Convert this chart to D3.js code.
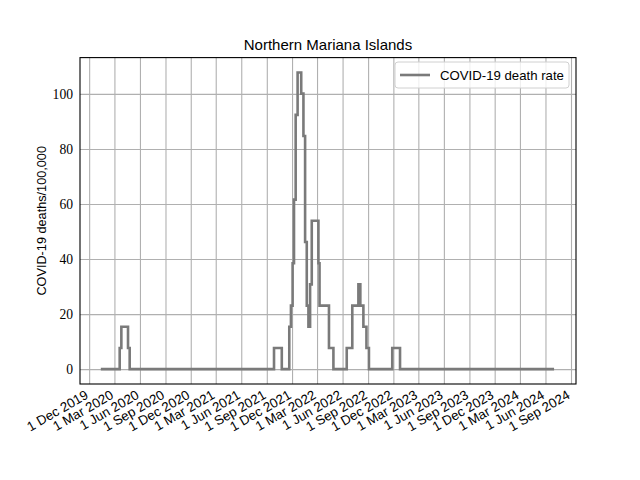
<!DOCTYPE html>
<html>
<head>
<meta charset="utf-8">
<script src="https://cdn.jsdelivr.net/npm/d3@7"></script>
<style>
  body { margin: 0; background: #fff; }
  svg { display: block; }
  .grid line { stroke: #b0b0b0; stroke-width: 1.1; }
  .grid path { display: none; }
  .axis path, .axis line { display: none; }
</style>
</head>
<body>
<svg id="chart" width="640" height="480"></svg>
<script>
// step data: date where the value changes, and the new value (deaths per 100,000)
const changeDates = [
    "2020-01-12", "2020-03-20", "2020-03-26", "2020-04-19", "2020-04-25",
    "2021-09-27", "2021-10-25", "2021-11-21", "2021-11-27", "2021-12-03",
    "2021-12-08", "2021-12-14", "2021-12-21", "2022-01-03", "2022-01-11",
    "2022-01-17", "2022-01-23", "2022-01-29", "2022-02-04", "2022-02-10",
    "2022-03-06", "2022-03-10", "2022-04-13", "2022-04-29", "2022-06-16",
    "2022-07-06", "2022-07-28", "2022-08-04", "2022-08-15", "2022-08-26",
    "2022-09-04", "2022-11-27", "2022-12-25", "2024-07-02"
];
const deathRates = [
    0, 7.7, 15.4, 7.7, 0,
    7.7, 0, 15.4, 23.1, 38.5,
    61.6, 92.4, 107.8, 100.1, 84.7,
    46.2, 23.1, 15.4, 30.8, 53.9,
    38.5, 23.1, 7.7, 0, 7.7,
    23.1, 30.8, 23.1, 15.4, 7.7,
    0, 7.7, 0, 0
];
const tickDates = [
    "2019-12-01", "2020-03-01", "2020-06-01", "2020-09-01", "2020-12-01",
    "2021-03-01", "2021-06-01", "2021-09-01", "2021-12-01", "2022-03-01",
    "2022-06-01", "2022-09-01", "2022-12-01", "2023-03-01", "2023-06-01",
    "2023-09-01", "2023-12-01", "2024-03-01", "2024-06-01", "2024-09-01"
];
const yTicks = [0, 20, 40, 60, 80, 100];
const titleText = "Northern Mariana Islands";
const yLabel = "COVID-19 deaths/100,000";
const legendLabel = "COVID-19 death rate";

const parse = d3.utcParse("%Y-%m-%d");
const series = changeDates.map((d, i) => ({ date: parse(d), value: deathRates[i] }));
const ticks = tickDates.map(parse);

const margin = { left: 80, right: 64, top: 57.6, bottom: 96 };
const width = 640 - margin.left - margin.right;
const height = 480 - margin.top - margin.bottom;

const svg = d3.select("#chart");
const g = svg.append("g")
    .attr("transform", `translate(${margin.left},${margin.top})`);

// matplotlib style 5% padding around the data
const yMax = d3.max(deathRates);
const xScale = d3.scaleUtc()
    .domain([parse("2019-10-29"), parse("2024-09-19")])
    .range([0, width]);
const yScale = d3.scaleLinear()
    .domain([-0.05 * yMax, 1.05 * yMax])
    .range([height, 0]);

// grid
g.append("g")
    .attr("class", "grid")
    .attr("transform", `translate(0,${height})`)
    .call(d3.axisBottom(xScale).tickValues(ticks).tickSize(-height).tickFormat(""));
g.append("g")
    .attr("class", "grid")
    .call(d3.axisLeft(yScale).tickValues(yTicks).tickSize(-width).tickFormat(""));

// x tick labels, rotated like autofmt_xdate
const fmt = d3.utcFormat("%-d %b %Y");
g.append("g")
    .attr("class", "x-labels")
    .selectAll("text")
    .data(ticks)
    .join("text")
    .attr("transform", d => `translate(${xScale(d) - 5},${height + 5}) rotate(-30)`)
    .attr("text-anchor", "end")
    .attr("dy", "0.75em")
    .style("font-family", "Liberation Sans, Arial, sans-serif")
    .style("font-size", "13.3px")
    .attr("fill", "#000")
    .text(d => fmt(d));

// y tick labels
g.append("g")
    .attr("class", "y-labels")
    .selectAll("text")
    .data(yTicks)
    .join("text")
    .attr("x", -7)
    .attr("y", d => yScale(d))
    .attr("dy", "0.35em")
    .attr("text-anchor", "end")
    .style("font-family", "Liberation Serif, serif")
    .style("font-size", "13.6px")
    .attr("fill", "#000")
    .text(d => d);

// data line
const line = d3.line()
    .x(d => xScale(d.date))
    .y(d => yScale(d.value))
    .curve(d3.curveStepAfter);

g.append("path")
    .datum(series)
    .attr("fill", "none")
    .attr("stroke", "#7a7a7a")
    .attr("stroke-width", 2.6)
    .attr("d", line);

// frame
g.append("rect")
    .attr("width", width)
    .attr("height", height)
    .attr("fill", "none")
    .attr("stroke", "#000")
    .attr("stroke-width", 1.1);

// title
svg.append("text")
    .attr("x", margin.left + width / 2)
    .attr("y", 49.5)
    .attr("text-anchor", "middle")
    .style("font-family", "Liberation Sans, Arial, sans-serif")
    .style("font-size", "15px")
    .text(titleText);

// y axis title
svg.append("text")
    .attr("transform", `translate(46,${margin.top + height / 2}) rotate(-90)`)
    .attr("text-anchor", "middle")
    .style("font-family", "Liberation Sans, Arial, sans-serif")
    .style("font-size", "12.7px")
    .text(yLabel);

// legend
const legend = svg.append("g")
    .attr("transform", "translate(395,62)");
legend.append("rect")
    .attr("width", 174)
    .attr("height", 26)
    .attr("rx", 3)
    .attr("fill", "#fff")
    .attr("fill-opacity", 0.8)
    .attr("stroke", "#d0d0d0")
    .attr("stroke-width", 1);
legend.append("line")
    .attr("x1", 5)
    .attr("x2", 35)
    .attr("y1", 13)
    .attr("y2", 13)
    .attr("stroke", "#7a7a7a")
    .attr("stroke-width", 2.6);
legend.append("text")
    .attr("x", 45)
    .attr("y", 18)
    .style("font-family", "Liberation Sans, Arial, sans-serif")
    .style("font-size", "13.2px")
    .text(legendLabel);
</script>
</body>
</html>
